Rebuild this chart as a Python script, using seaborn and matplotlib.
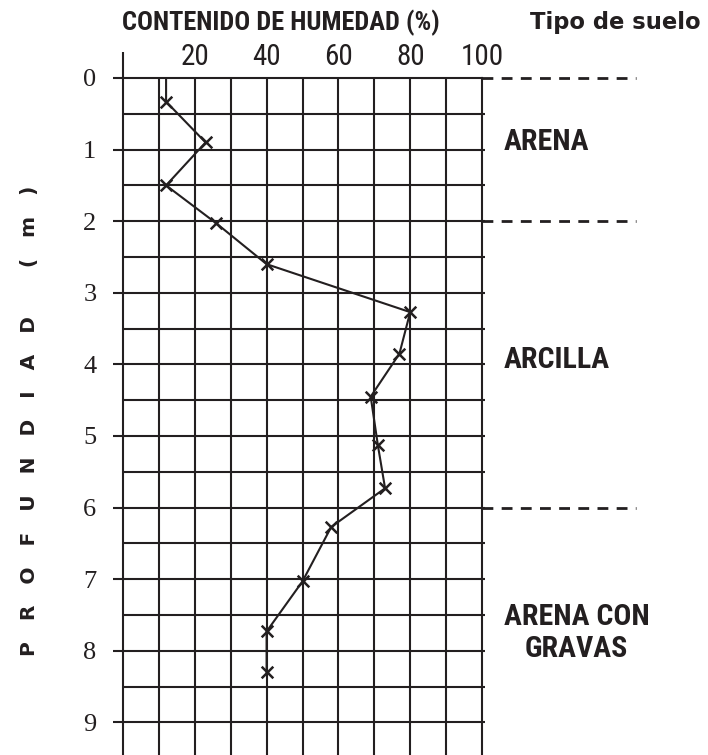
import matplotlib
matplotlib.use("Agg")
import matplotlib.pyplot as plt
from matplotlib import font_manager
import seaborn as sns
import pandas as pd

# Moisture profile: sampled depths (m) and moisture content (%)
depth_m = [0.33, 0.90, 1.50, 2.03, 2.60, 3.27, 3.85, 4.45, 5.13, 5.73, 6.27, 7.03, 7.73, 8.30]
moisture_pct = [12, 23, 12, 26, 40, 80, 77, 69, 71, 73, 58, 50, 40, 40]

# Soil strata: boundaries (m) and labels with their label depths
strata_bounds = [0, 2, 6]
strata_names = ["ARENA", "ARCILLA", "ARENA CON\nGRAVAS"]
strata_label_depth = [0.90, 3.94, 7.75]

x_ticks = [20, 40, 60, 80, 100]
y_ticks = list(range(10))

INK = "#231f20"
W, H = 708, 755

sns.set_theme(style="white")
plt.rcParams["font.family"] = ["DejaVu Sans"]

# narrow grotesque for the axis texts: first installed face with a bold cut
weights = {}
for f in font_manager.fontManager.ttflist:
    if f.style == "normal":
        weights.setdefault(f.name, set()).add(int(f.weight) if str(f.weight).isdigit() else 400)
preferred = ["Nimbus Sans Narrow", "Arial Narrow", "Liberation Sans Narrow",
             "Roboto Condensed", "PT Sans Narrow", "Open Sans Condensed",
             "Asap Condensed", "Barlow Semi Condensed"]
NARROW_FAMILY = "Liberation Sans"
for name in preferred:
    w = weights.get(name, set())
    if 400 in w and 700 in w:
        NARROW_FAMILY = name
        break
NARROW = dict(family=[NARROW_FAMILY, "DejaVu Sans"])

fig = plt.figure(figsize=(W / 100, H / 100), dpi=100)
ax = fig.add_axes([123 / W, 0, (482 - 123) / W, (H - 78) / H])

ax.set_xlim(0, 100)
ax.set_ylim((H - 78) / 71.6, 0)

# grid: verticals every 10 %, horizontals every 0.5 m
ax.vlines(range(10, 100, 10), 0, 10, colors=INK, lw=1.5, zorder=1)
ax.hlines([k * 0.5 for k in range(1, 20)], 0, 100.8, colors=INK, lw=1.5,
          zorder=1, clip_on=False)
ax.vlines(0, -0.37, 0, colors=INK, lw=1.5, clip_on=False)

for side in ["left", "right", "top"]:
    ax.spines[side].set_visible(True)
    ax.spines[side].set_color(INK)
    ax.spines[side].set_linewidth(1.5)
ax.spines["bottom"].set_visible(False)

# profile line from the surface down through the samples
line_df = pd.DataFrame({"m": [moisture_pct[0]] + moisture_pct,
                        "z": [0.0] + depth_m})
sns.lineplot(data=line_df, x="m", y="z", sort=False, estimator=None,
             color=INK, lw=1.5, ax=ax, zorder=3)
pts_df = pd.DataFrame({"m": moisture_pct, "z": depth_m})
sns.scatterplot(data=pts_df, x="m", y="z", marker="x", s=70, color=INK,
                linewidth=1.8, ax=ax, zorder=4)
ax.set_xlabel("")
ax.set_ylabel("")

# axes ticks
ax.xaxis.tick_top()
ax.set_xticks(x_ticks)
ax.set_xticklabels([str(v) for v in x_ticks], fontsize=21, color=INK, **NARROW)
ax.tick_params(axis="x", top=True, bottom=False, length=0, pad=5)
ax.set_yticks(y_ticks)
ax.set_yticklabels([str(v) for v in y_ticks], family=["Liberation Serif"],
                   fontsize=19, color=INK)
ax.tick_params(axis="y", left=True, length=7.2, width=1.5, color=INK, pad=12)

# strata boundaries and names
for b in strata_bounds:
    ax.plot([100, 143], [b, b], color=INK, lw=2.0, dashes=(3.9, 3.0),
            clip_on=False, zorder=2)
for name, d in zip(strata_names, strata_label_depth):
    if "\n" in name:
        ax.text(126.3, d, name, ha="center", va="center", multialignment="center",
                fontsize=21.5, fontweight="bold", color=INK,
                linespacing=1.2, clip_on=False, **NARROW)
    else:
        ax.text(106.1, d, name, ha="left", va="center",
                fontsize=21.5, fontweight="bold", color=INK,
                clip_on=False, **NARROW)

fig.text(281 / W, 1 - 30 / H, "CONTENIDO DE HUMEDAD (%)", ha="center",
         va="baseline", fontsize=19, fontweight="bold", color=INK, **NARROW)
fig.text(615 / W, 1 - 29 / H, "Tipo de suelo", ha="center", va="baseline",
         fontsize=16.3, fontweight="bold", color=INK, family=["DejaVu Sans"])
gap = "   "
ylabel = gap.join("PROFUNDIAD") + gap + "    " + gap.join("(m)")
fig.text(30 / W, 1 - 421 / H, ylabel, rotation=90, ha="center", va="center",
         fontsize=14.5, fontweight="bold", color=INK, family=["DejaVu Sans"])

fig.savefig("out.png", dpi=100, facecolor="white")
